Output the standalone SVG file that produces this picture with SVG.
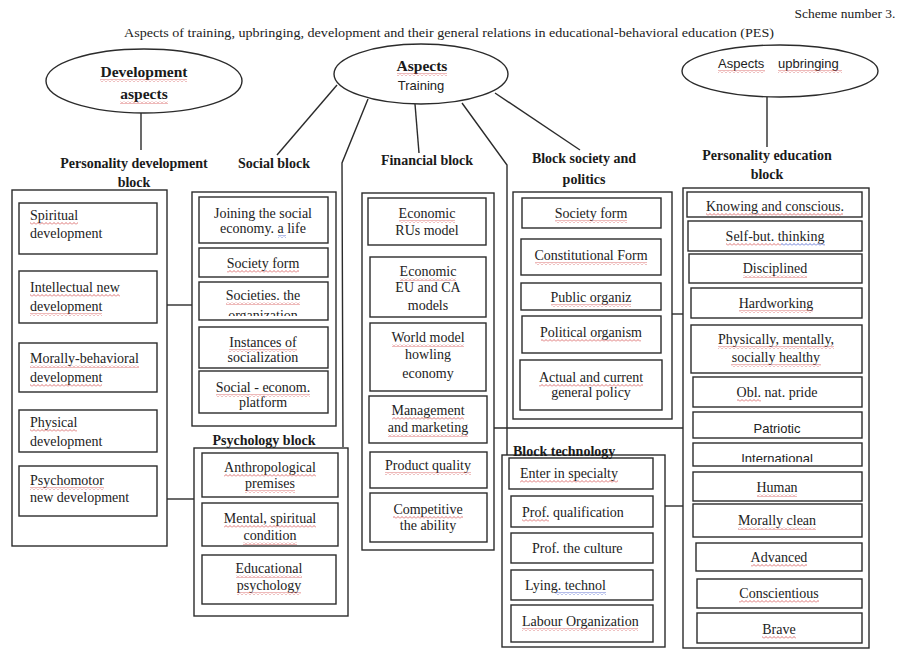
<svg xmlns="http://www.w3.org/2000/svg" width="898" height="650" viewBox="0 0 898 650">
<style>
  .bg { fill: #ffffff; }
  .box { fill: #ffffff; stroke: #2b2b2b; stroke-width: 1.4; }
  .ell { fill: #ffffff; stroke: #2b2b2b; stroke-width: 1.4; }
  .ln { fill: none; stroke: #2b2b2b; stroke-width: 1.4; }
  .t { font-family: "Liberation Serif", "Times New Roman", serif; font-size: 14px; fill: #222; text-anchor: middle; }
  .h { font-family: "Liberation Serif", "Times New Roman", serif; font-size: 14px; font-weight: bold; fill: #1a1a1a; text-anchor: middle; }
  .eh { font-size: 15.5px; }
  .s { font-family: "Liberation Sans", Arial, sans-serif; font-size: 13px; fill: #222; text-anchor: middle; }
  .l { text-anchor: start; }
  .sq { fill: url(#wvRed); }
  .sqb { fill: url(#wvBlue); }
</style>
<defs>
  <!-- squiggle strokes used under flagged words -->
  <pattern id="wvRed" width="4" height="3" patternUnits="userSpaceOnUse">
    <path d="M0 2.5 L2 0.5 L4 2.5" fill="none" stroke="#d24848" stroke-width="0.9" stroke-opacity="0.85"/>
  </pattern>
  <pattern id="wvBlue" width="4" height="3" patternUnits="userSpaceOnUse">
    <path d="M0 2.5 L2 0.5 L4 2.5" fill="none" stroke="#3a50c8" stroke-width="0.9" stroke-opacity="0.85"/>
  </pattern>
  <clipPath id="clipSoc"><rect x="200" y="283" width="127" height="33"/></clipPath>
  <clipPath id="clipPat"><rect x="694" y="413" width="167" height="20"/></clipPath>
  <clipPath id="clipInt"><rect x="694" y="444" width="167" height="18"/></clipPath>
</defs>
<rect class="bg" x="0" y="0" width="898" height="650"/>

<!-- heading -->
<g id="heading">
  <text class="t" x="845" y="18" style="font-size:13.5px">Scheme number 3.</text>
  <text class="t l" x="124" y="37" style="font-size:13px" textLength="650" lengthAdjust="spacingAndGlyphs">Aspects of training, upbringing, development and their general relations in educational-behavioral education (PES)</text>
</g>

<!-- connectors -->
<g id="connectors">
  <path class="ln" d="M141 113 V150"/>
  <path class="ln" d="M337 85 L277 155"/>
  <path class="ln" d="M368 99 L342 163 L343 447"/>
  <path class="ln" d="M415 104 L419 153"/>
  <path class="ln" d="M462 103 L507 165 V455"/>
  <path class="ln" d="M495 93 L580 150"/>
  <path class="ln" d="M767 97 V147"/>
  <path class="ln" d="M167 305 H192"/>
  <path class="ln" d="M167 499 H194"/>
  <path class="ln" d="M494 428 H683"/>
  <path class="ln" d="M672 314 H683"/>
  <path class="ln" d="M665 506 H683"/>
</g>

<!-- aspect ellipses -->
<g id="development-aspects">
  <ellipse class="ell" cx="144" cy="81" rx="98" ry="32"/>
  <text class="h eh" x="144" y="77">Development</text>
  <text class="h eh" x="144" y="99">aspects</text>
  <rect class="sq" x="100" y="79" width="87" height="3"/>
  <rect class="sq" x="120" y="101" width="48" height="3"/>
</g>
<g id="training-aspects">
  <ellipse class="ell" cx="421" cy="74" rx="87" ry="30"/>
  <text class="h eh" x="422" y="71">Aspects</text>
  <text class="s" x="421" y="90">Training</text>
  <rect class="sq" x="397" y="73" width="50" height="3"/>
</g>
<g id="upbringing-aspects">
  <ellipse class="ell" cx="780" cy="71" rx="98" ry="26"/>
  <text class="s l" x="718" y="68">Aspects</text>
  <text class="s l" x="778" y="68">upbringing</text>
  <rect class="sq" x="718" y="70" width="47" height="3"/>
  <rect class="sq" x="778" y="70" width="64" height="3"/>
</g>

<!-- personality development block -->
<g id="personality-development">
  <rect class="box" x="12" y="190" width="155" height="356"/>
  <g id="pd-spiritual">
    <rect class="box" x="19" y="203" width="138" height="51"/>
    <text class="t l" x="30" y="220">Spiritual</text>
    <text class="t l" x="30" y="238">development</text>
    <rect class="sq" x="30" y="222" width="48" height="3"/>
  </g>
  <g id="pd-intellectual">
    <rect class="box" x="19" y="271" width="138" height="52"/>
    <text class="t l" x="30" y="292">Intellectual new</text>
    <text class="t l" x="30" y="311">development</text>
    <rect class="sq" x="30" y="294" width="90" height="3"/>
    <rect class="sq" x="30" y="313" width="72" height="3"/>
  </g>
  <g id="pd-moral">
    <rect class="box" x="19" y="343" width="138" height="49"/>
    <text class="t l" x="30" y="363">Morally-behavioral</text>
    <text class="t l" x="30" y="382">development</text>
    <rect class="sq" x="30" y="365" width="109" height="3"/>
    <rect class="sq" x="30" y="384" width="72" height="3"/>
  </g>
  <g id="pd-physical">
    <rect class="box" x="19" y="410" width="138" height="42"/>
    <text class="t l" x="30" y="427">Physical</text>
    <text class="t l" x="30" y="446">development</text>
    <rect class="sq" x="30" y="429" width="47" height="3"/>
  </g>
  <g id="pd-psychomotor">
    <rect class="box" x="19" y="466" width="138" height="50"/>
    <text class="t l" x="30" y="485">Psychomotor</text>
    <text class="t l" x="30" y="502">new development</text>
    <rect class="sq" x="30" y="487" width="74" height="3"/>
  </g>
</g>

<!-- social block -->
<g id="social-block">
  <rect class="box" x="192" y="192" width="144" height="234"/>
  <g id="sb-joining">
    <rect class="box" x="199" y="197" width="129" height="46"/>
    <text class="t" x="263" y="218">Joining the social</text>
    <text class="t" x="263" y="233">economy. a life</text>
    <rect class="sqb" x="278" y="235" width="8" height="3"/>
  </g>
  <g id="sb-society-form">
    <rect class="box" x="199" y="248" width="129" height="29"/>
    <text class="t" x="263" y="268">Society form</text>
    <rect class="sq" x="227" y="270" width="72" height="3"/>
  </g>
  <g id="sb-organization">
    <rect class="box" x="199" y="282" width="129" height="38"/>
    <text class="t" x="263" y="300">Societies. the</text>
    <text class="t" x="263" y="320" clip-path="url(#clipSoc)">organization</text>
    <rect class="sq" x="226" y="302" width="74" height="3"/>
  </g>
  <g id="sb-instances">
    <rect class="box" x="199" y="327" width="129" height="41"/>
    <text class="t" x="263" y="347">Instances of</text>
    <text class="t" x="263" y="362">socialization</text>
    <rect class="sq" x="229" y="349" width="68" height="3"/>
  </g>
  <g id="sb-platform">
    <rect class="box" x="199" y="371" width="129" height="42"/>
    <text class="t" x="263" y="392">Social - econom.</text>
    <text class="t" x="263" y="407">platform</text>
    <rect class="sq" x="216" y="394" width="94" height="3"/>
  </g>
</g>

<!-- psychology block -->
<g id="psychology-block">
  <rect class="box" x="194" y="448" width="154" height="168"/>
  <g id="ps-anthropological">
    <rect class="box" x="202" y="453" width="136" height="44"/>
    <text class="t" x="270" y="472">Anthropological</text>
    <text class="t" x="270" y="488">premises</text>
    <rect class="sq" x="224" y="474" width="92" height="3"/>
    <rect class="sq" x="245" y="490" width="50" height="3"/>
  </g>
  <g id="ps-mental">
    <rect class="box" x="202" y="503" width="136" height="43"/>
    <text class="t" x="270" y="523">Mental, spiritual</text>
    <text class="t" x="270" y="540">condition</text>
    <rect class="sq" x="224" y="525" width="92" height="3"/>
    <rect class="sq" x="243" y="542" width="54" height="3"/>
  </g>
  <g id="ps-educational">
    <rect class="box" x="202" y="555" width="134" height="49"/>
    <text class="t" x="269" y="573">Educational</text>
    <text class="t" x="269" y="590">psychology</text>
    <rect class="sq" x="236" y="575" width="66" height="3"/>
    <rect class="sq" x="237" y="592" width="64" height="3"/>
  </g>
</g>

<!-- financial block -->
<g id="financial-block">
  <rect class="box" x="362" y="193" width="132" height="357"/>
  <g id="fb-rus">
    <rect class="box" x="368" y="198" width="118" height="47"/>
    <text class="t" x="427" y="218">Economic</text>
    <text class="t" x="427" y="235">RUs model</text>
    <rect class="sq" x="399" y="220" width="56" height="3"/>
  </g>
  <g id="fb-euca">
    <rect class="box" x="370" y="257" width="116" height="60"/>
    <text class="t" x="428" y="276">Economic</text>
    <text class="t" x="428" y="292">EU and CA</text>
    <text class="t" x="428" y="310">models</text>
    <rect class="sq" x="400" y="278" width="56" height="3"/>
  </g>
  <g id="fb-world">
    <rect class="box" x="370" y="323" width="116" height="68"/>
    <text class="t" x="428" y="342">World model</text>
    <text class="t" x="428" y="359">howling</text>
    <text class="t" x="428" y="378">economy</text>
    <rect class="sq" x="392" y="344" width="72" height="3"/>
  </g>
  <g id="fb-management">
    <rect class="box" x="369" y="396" width="118" height="47"/>
    <text class="t" x="428" y="415">Management</text>
    <text class="t" x="428" y="432">and marketing</text>
    <rect class="sq" x="392" y="417" width="72" height="3"/>
    <rect class="sq" x="388" y="434" width="80" height="3"/>
  </g>
  <g id="fb-quality">
    <rect class="box" x="370" y="452" width="117" height="36"/>
    <text class="t" x="428" y="470">Product quality</text>
    <rect class="sq" x="385" y="472" width="86" height="3"/>
  </g>
  <g id="fb-competitive">
    <rect class="box" x="370" y="493" width="117" height="49"/>
    <text class="t" x="428" y="514">Competitive</text>
    <text class="t" x="428" y="530">the ability</text>
    <rect class="sq" x="393" y="516" width="70" height="3"/>
  </g>
</g>

<!-- society and politics block -->
<g id="society-politics-block">
  <rect class="box" x="513" y="192" width="159" height="227"/>
  <g id="sp-society-form">
    <rect class="box" x="522" y="198" width="139" height="30"/>
    <text class="t" x="591" y="218">Society form</text>
    <rect class="sq" x="555" y="220" width="72" height="3"/>
  </g>
  <g id="sp-constitutional">
    <rect class="box" x="521" y="239" width="140" height="36"/>
    <text class="t" x="591" y="260">Constitutional Form</text>
    <rect class="sq" x="535" y="262" width="112" height="3"/>
  </g>
  <g id="sp-public">
    <rect class="box" x="521" y="283" width="140" height="27"/>
    <text class="t" x="591" y="302">Public organiz</text>
    <rect class="sq" x="551" y="304" width="80" height="3"/>
  </g>
  <g id="sp-political">
    <rect class="box" x="522" y="316" width="139" height="37"/>
    <text class="t" x="591" y="337">Political organism</text>
    <rect class="sq" x="541" y="339" width="100" height="3"/>
  </g>
  <g id="sp-policy">
    <rect class="box" x="520" y="360" width="142" height="50"/>
    <text class="t" x="591" y="382">Actual and current</text>
    <text class="t" x="591" y="397">general policy</text>
    <rect class="sq" x="539" y="384" width="104" height="3"/>
  </g>
</g>

<!-- technology block -->
<g id="technology-block">
  <rect class="box" x="502" y="455" width="163" height="192"/>
  <g id="tb-enter">
    <rect class="box" x="509" y="458" width="144" height="31"/>
    <text class="t l" x="520" y="478">Enter in specialty</text>
    <rect class="sq" x="520" y="480" width="98" height="3"/>
  </g>
  <g id="tb-qualification">
    <rect class="box" x="511" y="496" width="142" height="31"/>
    <text class="t l" x="522" y="517">Prof. qualification</text>
    <rect class="sq" x="522" y="519" width="27" height="3"/>
  </g>
  <g id="tb-culture">
    <rect class="box" x="511" y="533" width="142" height="30"/>
    <text class="t l" x="532" y="553">Prof. the culture</text>
  </g>
  <g id="tb-lying">
    <rect class="box" x="511" y="570" width="142" height="30"/>
    <text class="t l" x="525" y="590">Lying. technol</text>
    <rect class="sqb" x="555" y="592" width="51" height="3"/>
  </g>
  <g id="tb-labour">
    <rect class="box" x="511" y="605" width="142" height="37"/>
    <text class="t l" x="522" y="626">Labour Organization</text>
    <rect class="sq" x="522" y="628" width="116" height="3"/>
  </g>
</g>

<!-- personality education block -->
<g id="personality-education">
  <rect class="box" x="683" y="188" width="186" height="460"/>
  <g id="pe-knowing">
    <rect class="box" x="687" y="192" width="175" height="25"/>
    <text class="t" x="775" y="211">Knowing and conscious.</text>
    <rect class="sq" x="706" y="213" width="137" height="3"/>
  </g>
  <g id="pe-thinking">
    <rect class="box" x="688" y="221" width="174" height="30"/>
    <text class="t" x="775" y="241">Self-but. thinking</text>
    <rect class="sq" x="726" y="243" width="55" height="3"/>
    <rect class="sqb" x="781" y="243" width="44" height="3"/>
  </g>
  <g id="pe-disciplined">
    <rect class="box" x="689" y="254" width="173" height="29"/>
    <text class="t" x="775" y="273">Disciplined</text>
    <rect class="sq" x="743" y="275" width="64" height="3"/>
  </g>
  <g id="pe-hardworking">
    <rect class="box" x="691" y="288" width="171" height="30"/>
    <text class="t" x="776" y="308">Hardworking</text>
    <rect class="sq" x="739" y="310" width="74" height="3"/>
  </g>
  <g id="pe-healthy">
    <rect class="box" x="691" y="325" width="171" height="48"/>
    <text class="t" x="776" y="344">Physically, mentally,</text>
    <text class="t" x="776" y="362">socially healthy</text>
    <rect class="sq" x="718" y="346" width="116" height="3"/>
    <rect class="sq" x="731" y="364" width="90" height="3"/>
  </g>
  <g id="pe-pride">
    <rect class="box" x="693" y="377" width="169" height="30"/>
    <text class="t" x="777" y="397">Obl. nat. pride</text>
    <rect class="sq" x="737" y="399" width="24" height="3"/>
  </g>
  <g id="pe-patriotic">
    <rect class="box" x="693" y="412" width="169" height="26"/>
    <text class="s" x="777" y="433" clip-path="url(#clipPat)">Patriotic</text>
  </g>
  <g id="pe-international">
    <rect class="box" x="693" y="443" width="169" height="23"/>
    <text class="s" x="777" y="463" clip-path="url(#clipInt)">International</text>
  </g>
  <g id="pe-human">
    <rect class="box" x="693" y="472" width="169" height="29"/>
    <text class="t" x="777" y="492">Human</text>
    <rect class="sq" x="757" y="494" width="40" height="3"/>
  </g>
  <g id="pe-moral">
    <rect class="box" x="693" y="504" width="169" height="33"/>
    <text class="t" x="777" y="525">Morally clean</text>
    <rect class="sq" x="738" y="527" width="78" height="3"/>
  </g>
  <g id="pe-advanced">
    <rect class="box" x="696" y="543" width="166" height="28"/>
    <text class="t" x="779" y="562">Advanced</text>
    <rect class="sq" x="751" y="564" width="56" height="3"/>
  </g>
  <g id="pe-conscientious">
    <rect class="box" x="697" y="579" width="165" height="29"/>
    <text class="t" x="779" y="598">Conscientious</text>
    <rect class="sq" x="739" y="600" width="80" height="3"/>
  </g>
  <g id="pe-brave">
    <rect class="box" x="697" y="613" width="165" height="30"/>
    <text class="t" x="779" y="634">Brave</text>
    <rect class="sq" x="762" y="636" width="34" height="3"/>
  </g>
</g>

<!-- block headings, drawn last so they sit over the frame edges -->
<g id="headings">
  <text class="h" x="134" y="168">Personality development</text>
  <text class="h" x="134" y="187">block</text>
  <text class="h" x="274" y="168">Social block</text>
  <text class="h" x="427" y="165">Financial block</text>
  <text class="h" x="584" y="163">Block society and</text>
  <text class="h" x="584" y="184">politics</text>
  <text class="h" x="767" y="160">Personality education</text>
  <text class="h" x="767" y="179">block</text>
  <text class="h" x="264" y="445">Psychology block</text>
  <text class="h l" x="513" y="456">Block technology</text>
</g>
</svg>
